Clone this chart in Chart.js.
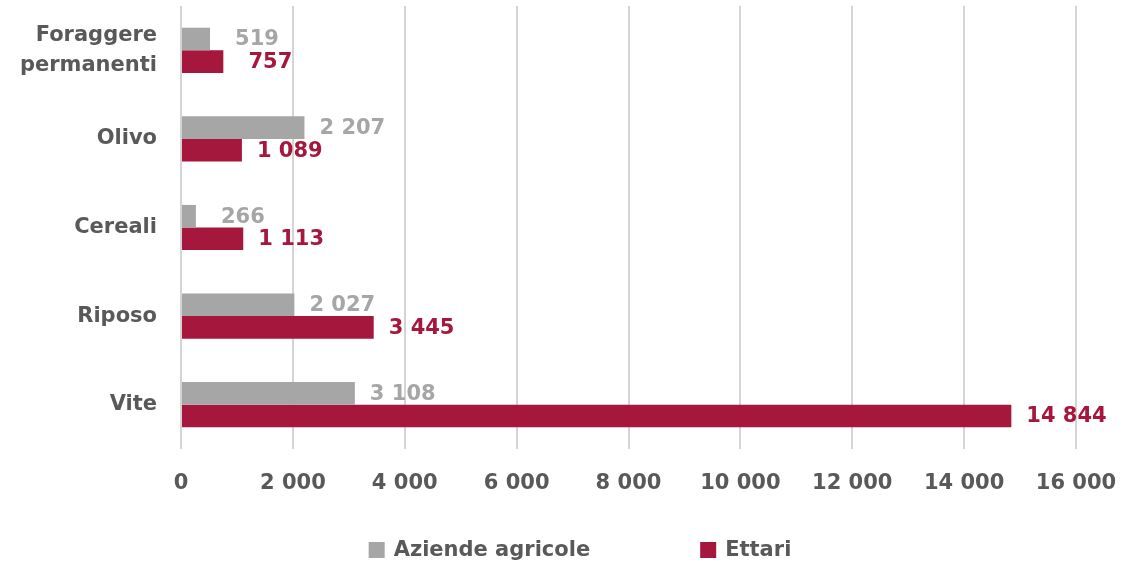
<!DOCTYPE html>
<html>
<head>
<meta charset="utf-8">
<script src="https://cdn.jsdelivr.net/npm/chart.js@4/dist/chart.umd.min.js"></script>
<style>
  html, body { margin: 0; padding: 0; background: #fff; }
  #wrap { width: 1129px; height: 566px; }
</style>
</head>
<body>
<div id="wrap"><canvas id="myChart"></canvas></div>
<script>
// data
var categories = [['Foraggere', 'permanenti'], 'Olivo', 'Cereali', 'Riposo', 'Vite'];
var aziende = [519, 2207, 266, 2027, 3108];
var ettari = [757, 1089, 1113, 3445, 14844];
var seriesNames = ['Aziende agricole', 'Ettari'];
var xTicks = [0, 2000, 4000, 6000, 8000, 10000, 12000, 14000, 16000];

var FONT = '"DejaVu Sans", Arial, sans-serif';
var GRAY = '#A6A6A6';
var RED = '#A6173D';
var TEXT = '#595959';

function fmt(v) {
    return String(v).replace(/\B(?=(\d{3})+(?!\d))/g, ' ');
}

// value labels at the end of each bar
var valueLabels = {
    id: 'valueLabels',
    afterDatasetsDraw: function(chart) {
        var ctx = chart.ctx;
        ctx.save();
        ctx.font = 'bold 21px ' + FONT;
        ctx.textAlign = 'center';
        ctx.textBaseline = 'middle';
        chart.data.datasets.forEach(function(ds, i) {
            var meta = chart.getDatasetMeta(i);
            ctx.fillStyle = ds.labelColor;
            meta.data.forEach(function(el, j) {
                var txt = fmt(ds.data[j]);
                var w = ctx.measureText(txt).width;
                ctx.fillText(txt, el.x + Math.max(47, w / 2 + 15), el.y + 1);
            });
        });
        ctx.restore();
    }
};

// legend drawn like the office one: wide gap between the two items
var wideLegend = {
    id: 'wideLegend',
    afterDraw: function(chart) {
        var ctx = chart.ctx;
        var box = 16, gapText = 9, gapItem = 110;
        ctx.save();
        ctx.font = 'bold 21px ' + FONT;
        ctx.textBaseline = 'middle';
        var items = chart.data.datasets.map(function(ds) {
            return { text: ds.label, color: ds.backgroundColor, w: box + gapText + ctx.measureText(ds.label).width };
        });
        var total = items.reduce(function(s, it) { return s + it.w; }, 0) + gapItem * (items.length - 1);
        var x = 580 - total / 2;
        var y = 550;
        items.forEach(function(it) {
            ctx.fillStyle = it.color;
            ctx.fillRect(x, y - box / 2, box, box);
            ctx.fillStyle = TEXT;
            ctx.textAlign = 'left';
            ctx.fillText(it.text, x + box + gapText, y + 1);
            x += it.w + gapItem;
        });
        ctx.restore();
    }
};

var ctx = document.getElementById('myChart').getContext('2d');
var myChart = new Chart(ctx, {
    type: 'bar',
    data: {
        labels: categories,
        datasets: [{
            label: seriesNames[0],
            data: aziende,
            backgroundColor: GRAY,
            labelColor: '#A6A6A6',
            categoryPercentage: 0.51,
            barPercentage: 1
        }, {
            label: seriesNames[1],
            data: ettari,
            backgroundColor: RED,
            labelColor: RED,
            categoryPercentage: 0.51,
            barPercentage: 1
        }]
    },
    options: {
        indexAxis: 'y',
        responsive: true,
        maintainAspectRatio: false,
        animation: false,
        layout: { padding: { top: 6, right: 53, bottom: 70, left: 0 } },
        plugins: {
            legend: { display: false },
            tooltip: { enabled: false }
        },
        scales: {
            x: {
                min: 0,
                max: 16000,
                afterBuildTicks: function(scale) {
                    scale.ticks = xTicks.map(function(v) { return { value: v }; });
                },
                afterFit: function(scale) {
                    scale.height = 47;
                    scale.paddingLeft = 0;
                    scale.paddingRight = 0;
                },
                grid: { color: '#D4D4D4', lineWidth: 2, drawTicks: false },
                border: { display: false },
                ticks: {
                    padding: 22,
                    color: TEXT,
                    font: { family: FONT, size: 21, weight: 'bold' },
                    callback: function(v) { return fmt(v); }
                }
            },
            y: {
                afterFit: function(scale) {
                    scale.width = 181;
                    scale.paddingTop = 0;
                    scale.paddingBottom = 0;
                },
                grid: { display: false, drawTicks: false },
                border: { display: false },
                ticks: {
                    padding: 24,
                    color: TEXT,
                    font: { family: FONT, size: 21, weight: 'bold', lineHeight: 1.45 }
                }
            }
        }
    },
    plugins: [valueLabels, wideLegend]
});
</script>
</body>
</html>
